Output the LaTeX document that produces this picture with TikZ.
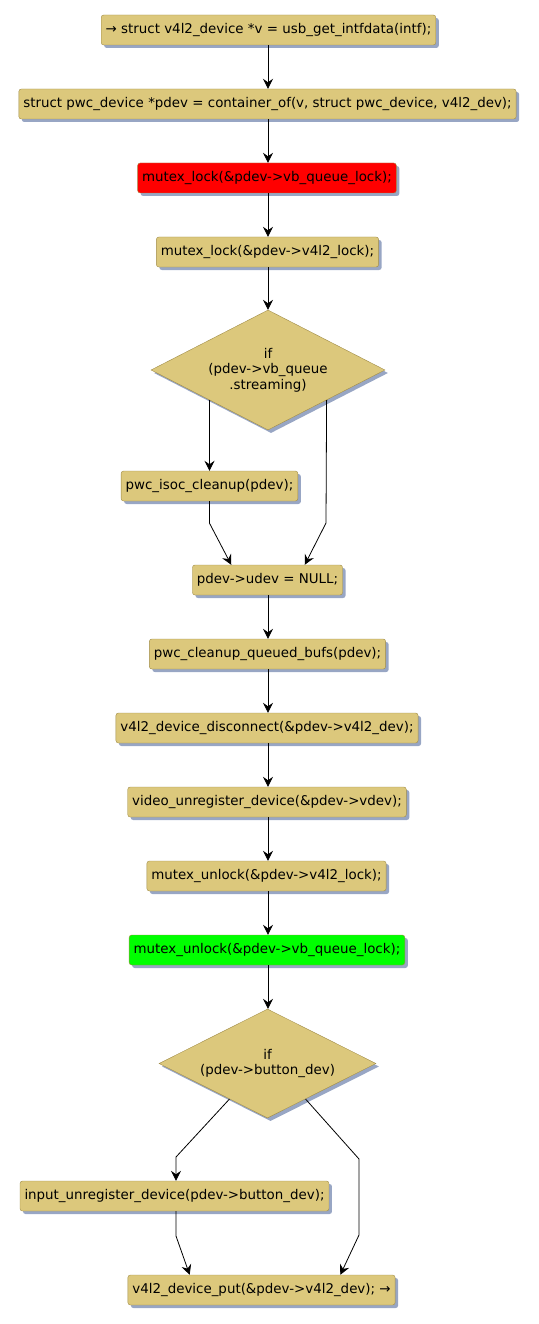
\documentclass[tikz,border=0pt]{standalone}
\usepackage{fontspec}
\setmainfont{DejaVu Sans}
\usepackage{tikz}
\usetikzlibrary{calc,shapes.geometric,shadows,arrows.meta}

\definecolor{stmtfill}{RGB}{220,200,124}
\definecolor{stmtline}{RGB}{160,140,72}
\definecolor{shadowc}{RGB}{152,166,196}
\definecolor{lockred}{RGB}{255,0,0}
\definecolor{unlockgreen}{RGB}{0,255,0}

\tikzset{
  stmt/.style={draw=stmtline, fill=stmtfill, rounded corners=2.5pt, minimum height=30pt,
    inner xsep=4.5pt, inner ysep=0pt, font=\fontsize{13.4}{15.5}\selectfont,
    drop shadow={shadow xshift=3pt, shadow yshift=-3pt, fill=shadowc, opacity=1}},
  cond/.style={stmt, diamond, rounded corners=0pt, inner sep=0pt},
  condtext/.style={align=center, font=\fontsize{13.4}{15.5}\selectfont},
  flow/.style={draw, line width=0.8pt, -{Stealth[length=10pt,width=10pt,inset=3.5pt]}}
}

\begin{document}
\begin{tikzpicture}[x=1pt,y=-1pt]
				\useasboundingbox (0,0) rectangle (538,1324);
				\node[stmt] (n1) at (268.5,30) {→ struct v4l2\_device *v = usb\_get\_intfdata(intf);};
				\node[stmt] (n2) at (267.5,104) {struct pwc\_device *pdev = container\_of(v, struct pwc\_device, v4l2\_dev);};
				\node[stmt, fill=lockred] (n3) at (267,178) {mutex\_lock(\&pdev->vb\_queue\_lock);};
				\node[stmt] (n4) at (267.5,252) {mutex\_lock(\&pdev->v4l2\_lock);};
				\node[cond, minimum width=234pt, minimum height=120pt,
				  label={[condtext]center:if\\(pdev->vb\_queue\\.streaming)}] (d1) at (268,370) {};
				\node[stmt] (isoc) at (209.5,486) {pwc\_isoc\_cleanup(pdev);};
				\node[stmt] (udev) at (267.5,580) {pdev->udev = NULL;};
				\node[stmt] (n8) at (267.5,654) {pwc\_cleanup\_queued\_bufs(pdev);};
				\node[stmt] (n9) at (267,728) {v4l2\_device\_disconnect(\&pdev->v4l2\_dev);};
				\node[stmt] (n10) at (267,802) {video\_unregister\_device(\&pdev->vdev);};
				\node[stmt] (n11) at (266.5,876) {mutex\_unlock(\&pdev->v4l2\_lock);};
				\node[stmt, fill=unlockgreen] (n12) at (267,950) {mutex\_unlock(\&pdev->vb\_queue\_lock);};
				\node[cond, minimum width=217pt, minimum height=109pt,
				  label={[condtext]center:if\\(pdev->button\_dev)}] (d2) at (267.5,1063.5) {};
				\node[stmt] (inp) at (174.5,1196) {input\_unregister\_device(pdev->button\_dev);};
				\node[stmt] (put) at (261.5,1290) {v4l2\_device\_put(\&pdev->v4l2\_dev); →};
				% straight chain
				\draw[flow] (d1.north |- n1.south) -- (d1.north |- n2.north);
				\draw[flow] (d1.north |- n2.south) -- (d1.north |- n3.north);
				\draw[flow] (d1.north |- n3.south) -- (d1.north |- n4.north);
				\draw[flow] (d1.north |- n4.south) -- (d1.north);
				\draw[flow] (d1.north |- udev.south) -- (d1.north |- n8.north);
				\draw[flow] (d1.north |- n8.south) -- (d1.north |- n9.north);
				\draw[flow] (d1.north |- n9.south) -- (d1.north |- n10.north);
				\draw[flow] (d1.north |- n10.south) -- (d1.north |- n11.north);
				\draw[flow] (d1.north |- n11.south) -- (d1.north |- n12.north);
				\draw[flow] (d1.north |- n12.south) -- (d1.north |- d2.north);
				% first branch
				\draw[flow] (d1.south west) -- (isoc.north);
				\draw[flow] (isoc.south) -- ++(0,22) -- ([xshift=39pt]udev.north west);
				\draw[flow] (d1.south east) -- (326,523) -- ([xshift=-38pt]udev.north east);
				% second branch
				\draw[flow] ($(d2.west)!0.65!(d2.south)$) -- (176,1157) -- (inp.north -| 176,0);
				\draw[flow] ($(d2.east)!0.65!(d2.south)$) -- (359,1159) -- (359,1235) -- ([xshift=-55pt]put.north east);
				\draw[flow] (inp.south -| 176,0) -- (176,1236) -- ([xshift=62pt]put.north west);
			\end{tikzpicture}
\end{document}
